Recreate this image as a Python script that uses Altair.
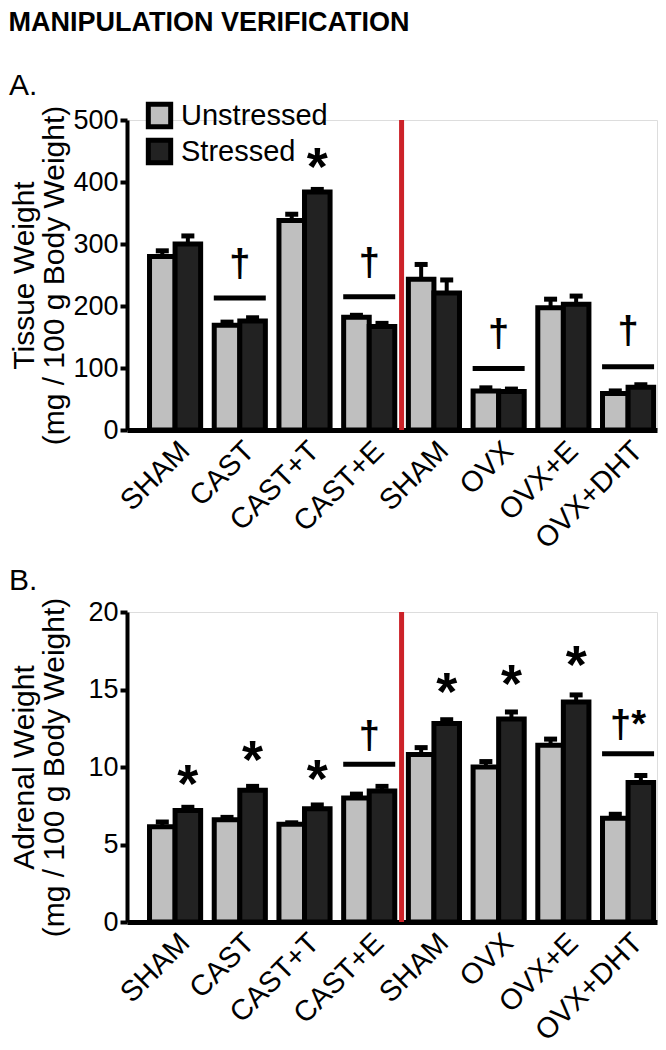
import altair as alt
import pandas as pd

FONT = "Liberation Sans"

groups = ["SHAM", "CAST", "CAST+T", "CAST+E", "SHAM ", "OVX", "OVX+E", "OVX+DHT"]
series = ["Unstressed", "Stressed"]
series_colors = ["#bfbfbf", "#222222"]

# Panel A: tissue weight (mg / 100 g body weight)
tissue_unstressed = [280, 169, 338, 182, 243, 63, 197, 59]
tissue_unstressed_sem = [9, 5, 10, 3, 24, 5, 14, 4]
tissue_stressed = [300, 176, 384, 167, 221, 62, 203, 69]
tissue_stressed_sem = [13, 5, 4, 5, 21, 4, 13, 4]
tissue_ticks = [0, 100, 200, 300, 400, 500]

tissue_line_groups = ["CAST", "CAST+E", "OVX", "OVX+DHT"]
tissue_line_values = [213, 215, 99, 102]
tissue_dagger_values = [264, 266, 152, 156]
tissue_star_groups = ["CAST+T"]
tissue_star_values = [441]

# Panel B: adrenal weight (mg / 100 g body weight)
adrenal_unstressed = [6.15, 6.6, 6.3, 8.0, 10.8, 10.0, 11.4, 6.7]
adrenal_unstressed_sem = [0.3, 0.15, 0.1, 0.25, 0.45, 0.35, 0.4, 0.25]
adrenal_stressed = [7.2, 8.5, 7.3, 8.45, 12.8, 13.1, 14.2, 9.0]
adrenal_stressed_sem = [0.2, 0.25, 0.25, 0.3, 0.25, 0.45, 0.45, 0.45]
adrenal_ticks = [0, 5, 10, 15, 20]

adrenal_line_groups = ["CAST+E", "OVX+DHT"]
adrenal_line_values = [10.18, 10.86]
adrenal_dagger_groups = ["CAST+E", "OVX+DHT"]
adrenal_dagger_texts = ["†", "†*"]
adrenal_dagger_values = [11.9, 12.6]
adrenal_star_groups = ["SHAM", "CAST", "CAST+T", "SHAM ", "OVX", "OVX+E"]
adrenal_star_values = [9.53, 11.07, 9.86, 15.47, 15.97, 17.2]

W, H = 530, 310
P_INNER = 0.21
P_OUTER = 0.2
STEP = W / (len(groups) - P_INNER + 2 * P_OUTER)
SEP_SHIFT = STEP * P_INNER / 2


def bar_table(u, us, s, ss):
    rows = []
    for g, v, e in zip(groups, u, us):
        rows.append({"group": g, "series": "Unstressed", "value": v, "hi": v + e})
    for g, v, e in zip(groups, s, ss):
        rows.append({"group": g, "series": "Stressed", "value": v, "hi": v + e})
    return pd.DataFrame(rows)


def panel(df, ymax, ticks, ytitle, lines_df, dag_df, star_df, panel_title, show_legend):
    xs = alt.Scale(paddingInner=P_INNER, paddingOuter=P_OUTER, align=0.87)
    x = alt.X("group:N", sort=groups, scale=xs,
              axis=alt.Axis(title=None, labelAngle=-45, labelExpr="trim(datum.label)",
                            ticks=False, labelFontSize=29, labelPadding=6,
                            domainWidth=5, domainColor="black", labelColor="black",
                            labelFont=FONT))
    xo = alt.XOffset("series:N", sort=series, scale=alt.Scale(paddingInner=0, paddingOuter=0))
    y_scale = alt.Scale(domain=[0, ymax], nice=False, zero=True)
    y = alt.Y("value:Q", scale=y_scale,
              axis=alt.Axis(values=ticks, title=ytitle, titleFontSize=30, titleFontWeight="normal",
                            titleLineHeight=30,
                            titleFont=FONT, labelFont=FONT, labelFontSize=27, tickSize=7,
                            tickWidth=4, domainWidth=4, grid=False, minExtent=56, maxExtent=56,
                            titlePadding=2, labelPadding=2, domainColor="black",
                            tickColor="black", labelColor="black", titleColor="black"))
    if show_legend:
        legend = alt.Legend(title=None, orient="none", legendX=18, legendY=-19,
                            symbolType="square", symbolSize=500, symbolStrokeColor="black",
                            symbolStrokeWidth=5, labelFontSize=29, labelFont=FONT,
                            labelColor="black", rowPadding=-8, labelOffset=7,
                            symbolOpacity=1)
    else:
        legend = None
    color = alt.Color("series:N", sort=series,
                      scale=alt.Scale(domain=series, range=series_colors), legend=legend)

    base = alt.Chart(df)
    bars = base.mark_bar(stroke="black", strokeWidth=5).encode(x=x, xOffset=xo, y=y, color=color)
    stems = base.mark_rule(color="black", strokeWidth=4).encode(
        x=x, xOffset=xo, y="value:Q", y2="hi:Q")
    caps = base.mark_tick(color="black", size=13, thickness=5, opacity=1).encode(
        x=x, xOffset=xo, y="hi:Q")

    sep = alt.Chart(pd.DataFrame({"group": [groups[3]], "lo": [0], "top": [ymax]})).mark_rule(
        color="#cc2229", strokeWidth=5, xOffset=SEP_SHIFT).encode(
        x=alt.X("group:N", sort=groups, bandPosition=1),
        y="lo:Q", y2="top:Q")

    lines = alt.Chart(lines_df).mark_tick(color="black", size=52, thickness=5, opacity=1).encode(
        x=alt.X("group:N", sort=groups), y="y:Q")
    daggers = alt.Chart(dag_df).mark_text(font=FONT, fontSize=38, fontWeight="bold", color="black",
                                          baseline="middle", dy=-1).encode(
        x=alt.X("group:N", sort=groups), y="y:Q", text="t:N")
    stars = alt.Chart(star_df).mark_text(font=FONT, fontSize=54, fontWeight="bold",
                                         color="black", baseline="middle", dy=12).encode(
        x=alt.X("group:N", sort=groups), xOffset=alt.XOffset("series:N", sort=series),
        y="y:Q", text="t:N")

    return alt.layer(bars, stems, caps, sep, lines, daggers, stars).properties(
        width=W, height=H,
        title=alt.TitleParams(panel_title, anchor="start", fontSize=30, fontWeight="normal",
                              font=FONT, color="black", offset=0 if show_legend else 1))


dfA = bar_table(tissue_unstressed, tissue_unstressed_sem, tissue_stressed, tissue_stressed_sem)
dfB = bar_table(adrenal_unstressed, adrenal_unstressed_sem, adrenal_stressed, adrenal_stressed_sem)

linesA = pd.DataFrame({"group": tissue_line_groups, "y": tissue_line_values})
dagA = pd.DataFrame({"group": tissue_line_groups, "y": tissue_dagger_values,
                     "t": ["†"] * len(tissue_line_groups)})
starA = pd.DataFrame({"group": tissue_star_groups, "series": ["Stressed"] * len(tissue_star_groups),
                      "y": tissue_star_values, "t": ["*"] * len(tissue_star_groups)})

linesB = pd.DataFrame({"group": adrenal_line_groups, "y": adrenal_line_values})
dagB = pd.DataFrame({"group": adrenal_dagger_groups, "y": adrenal_dagger_values,
                     "t": adrenal_dagger_texts})
starB = pd.DataFrame({"group": adrenal_star_groups, "series": ["Stressed"] * len(adrenal_star_groups),
                      "y": adrenal_star_values, "t": ["*"] * len(adrenal_star_groups)})

pA = panel(dfA, 500, tissue_ticks, ["Tissue Weight", "(mg / 100 g Body Weight)"],
           linesA, dagA, starA, "A.", True)
pB = panel(dfB, 20, adrenal_ticks, ["Adrenal Weight", "(mg / 100 g Body Weight)"],
           linesB, dagB, starB, "B.", False)

chart = alt.vconcat(pA, pB, spacing=10).resolve_scale(
    color="independent", x="independent", y="independent"
).resolve_legend(color="independent").properties(
    padding=0,
    title=alt.TitleParams("MANIPULATION VERIFICATION", anchor="start", fontSize=27,
                          fontWeight="bold", font=FONT, color="black", offset=34)
).configure_view(stroke=None).configure(background="white")

chart.save("out.html", embed_options={"renderer": "svg", "actions": False})
